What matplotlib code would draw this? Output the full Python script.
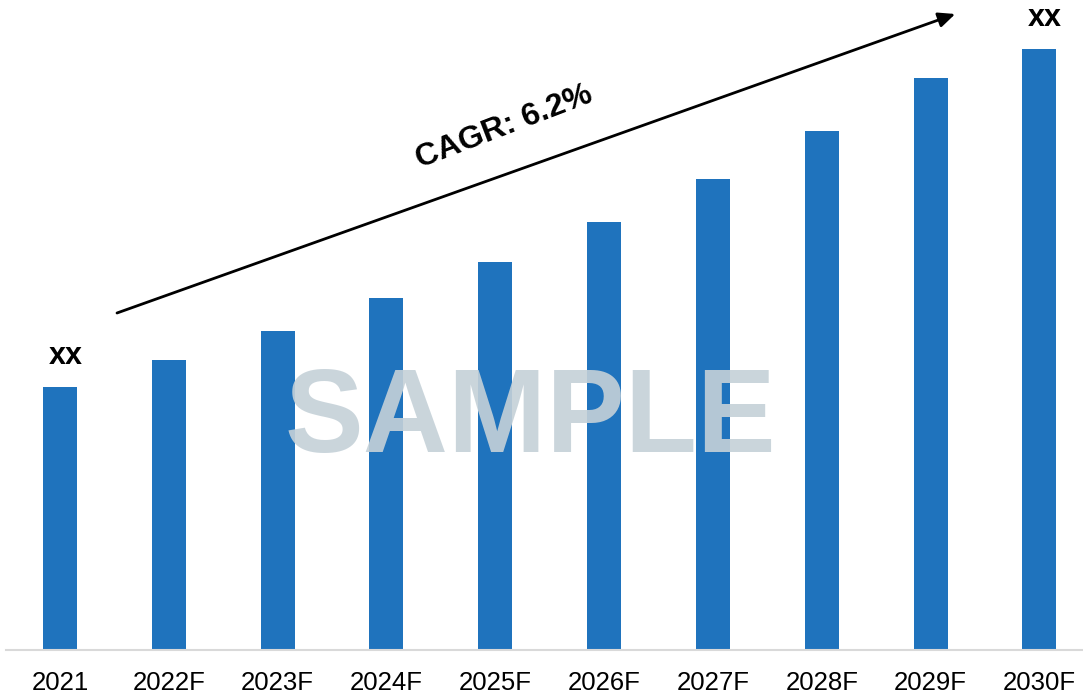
import numpy as np
import matplotlib
matplotlib.use('Agg')
import matplotlib.pyplot as plt

years = ['2021', '2022F', '2023F', '2024F', '2025F', '2026F', '2027F', '2028F', '2029F', '2030F']
values = [263, 290, 319, 352, 388, 428, 471, 519, 572, 601]
end_labels = {0: 'xx', 9: 'xx'}
cagr_text = 'CAGR: 6.2%'

plt.rcParams['font.family'] = ['Liberation Sans', 'DejaVu Sans']

fig = plt.figure(figsize=(10.83, 6.94), dpi=100)
ax = fig.add_axes([6 / 1083, 44 / 694, 1 - 6 / 1083, 650 / 694])

x = np.arange(len(years))
ax.bar(x, values, width=0.3125, color='#1F73BD', zorder=2)

ax.set_xlim(-0.496, 9.40)
ax.set_ylim(0, 650)
ax.set_xticks(x)
ax.set_xticklabels(years, fontsize=18.5)
ax.tick_params(axis='x', length=0, pad=15)
ax.set_yticks([])
for s in ['top', 'left', 'right']:
    ax.spines[s].set_visible(False)
ax.spines['bottom'].set_color('#D9D9D9')
ax.spines['bottom'].set_linewidth(1.5)

for i, lab in end_labels.items():
    ax.text(x[i] + 0.05, values[i] + 16, lab, ha='center', va='bottom',
            fontsize=22, fontweight='bold')

# growth arrow
ax.annotate('', xy=(8.226, 636), xytext=(0.524, 337),
            arrowprops=dict(arrowstyle='-|>,head_length=1.0,head_width=0.45',
                            color='black', lw=2, shrinkA=0, shrinkB=0))
ax.text(4.08, 523, cagr_text, ha='center', va='center', rotation=21,
        fontsize=23, fontweight='bold')

# watermark
ax.text(0.4868, 0.352, 'SAMPLE', transform=ax.transAxes, ha='center', va='center',
        fontsize=85, fontweight='bold', color='#C5D1D8', alpha=0.9, zorder=3)

fig.savefig('out.png', dpi=100)
